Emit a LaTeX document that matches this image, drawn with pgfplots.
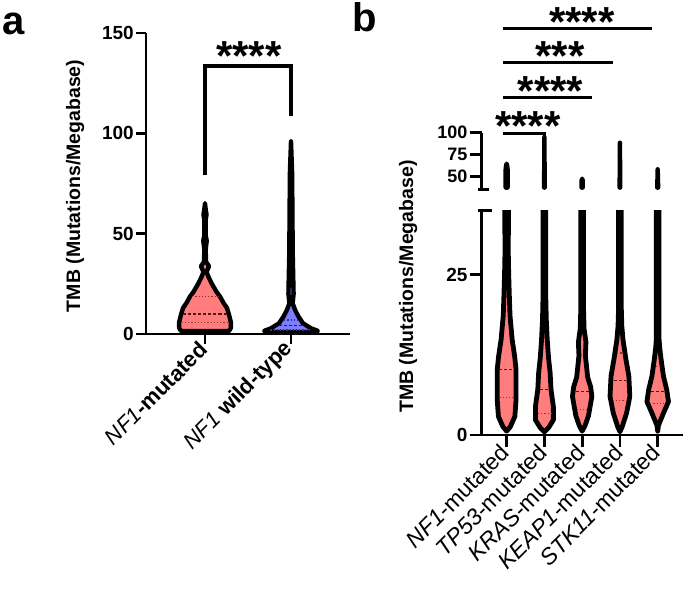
\documentclass[border=0pt]{standalone}
\usepackage{fontspec}
\setmainfont{Liberation Sans}
\usepackage{pgfplots}
\pgfplotsset{compat=1.18}
\definecolor{vred}{RGB}{255,125,125}
\definecolor{vblue}{RGB}{125,125,255}
\definecolor{medr}{RGB}{80,25,25}
\definecolor{qr}{RGB}{150,50,50}
\definecolor{medb}{RGB}{30,30,90}
\definecolor{qb}{RGB}{50,50,150}
\newcommand\fs[1]{\fontsize{#1}{#1}\selectfont}
\pgfplotsset{
  base/.style={scale only axis,
    axis line style={line width=2.8pt,-},
    tick style={black,line width=2.8pt},
    tick align=outside,
    /pgf/number format/assume math mode=true,
    yticklabel style={font=\fs{19}\bfseries, inner sep=2pt},
    ylabel style={font=\fs{19.5}\bfseries},
  },
}
\tikzset{
  vio/.style={fill=vred, draw=black, line width=4.8pt, line join=round},
  vioa/.style={fill=vred, draw=black, line width=4.4pt, line join=round},
  med/.style={medr, line width=1.6pt, dash pattern=on 3pt off 2pt},
  qrt/.style={qr, line width=1.2pt, dash pattern=on 1.2pt off 2pt},
  medB/.style={medb, line width=1.6pt, dash pattern=on 3pt off 2pt},
  qrtB/.style={qb, line width=1.2pt, dash pattern=on 1.2pt off 2pt},
  sig/.style={black, line width=3pt, line join=miter},
  stars/.style={anchor=base, inner sep=0pt, font=\fs{42}\bfseries, yshift=-24.3pt},
}
\begin{document}
\begin{tikzpicture}
\useasboundingbox (0pt,0pt) rectangle (685pt,589pt);
\node[anchor=base west, inner sep=0pt, font=\fs{40}\bfseries] at (2pt,554pt) {a};
\node[anchor=base west, inner sep=0pt, font=\fs{40}\bfseries] at (352pt,557pt) {b};

% ---------------- panel a ----------------
\begin{axis}[base, at={(146pt,255pt)}, anchor=south west, width=204pt, height=301pt,
  axis x line*=bottom, axis y line*=left,
  xmin=-0.686, xmax=1.686, ymin=0, ymax=150,
  ytick={0,50,100,150}, xtick={0,1}, major tick length=10pt,
  xticklabels={{\mdseries\itshape NF1}-mutated, {\mdseries\itshape NF1} wild-type},
  xticklabel style={font=\fs{22}\bfseries, rotate=45, anchor=east, inner sep=2pt},
  ylabel={TMB (Mutations/Megabase)},
  ylabel style={at={(axis description cs:-0.348,0.492)}, anchor=center},
  clip=false]
\addplot[vioa] coordinates {(0.28,1.5) (0.30,3) (0.30,6) (0.28,9.5) (0.255,13) (0.215,15.5) (0.174,18.7) (0.134,21) (0.076,25.3) (0.038,28.7) (0.017,31) (0.047,33.7) (0.012,36) (0.008,42) (0.02,46.5) (0.008,49) (0.008,57) (0.018,59.5) (0.008,62) (0,65.2) (-0.008,62) (-0.018,59.5) (-0.008,57) (-0.008,49) (-0.02,46.5) (-0.008,42) (-0.012,36) (-0.047,33.7) (-0.017,31) (-0.038,28.7) (-0.076,25.3) (-0.134,21) (-0.174,18.7) (-0.215,15.5) (-0.255,13) (-0.28,9.5) (-0.30,6) (-0.30,3) (-0.28,1.5)} --cycle;
\addplot[vioa, fill=vblue] coordinates {(1.30,0.9) (1.31,1.6) (1.235,2.8) (1.14,5.3) (1.087,8.7) (1.047,12) (1.019,15.3) (1.03,20) (1.02,40) (1.013,80) (1,96) (0.987,80) (0.98,40) (0.97,20) (0.981,15.3) (0.953,12) (0.913,8.7) (0.86,5.3) (0.765,2.8) (0.69,1.6) (0.70,0.9)} --cycle;
\addplot[med] coordinates {(-0.25,10) (0.25,10)};
\addplot[qrt] coordinates {(-0.27,5.7) (0.27,5.7)};
\addplot[qrt] coordinates {(-0.15,18.7) (0.15,18.7)};
\addplot[medB] coordinates {(0.86,4.2) (1.14,4.2)};
\addplot[qrtB] coordinates {(0.76,2.0) (1.24,2.0)};
\addplot[qrtB] coordinates {(0.92,7.0) (1.08,7.0)};
\addplot[sig, line width=4pt] coordinates {(0,79) (0,133.7) (1,133.7) (1,108.5)};
\node[stars] at (axis cs:0.51,143.3) {****};
\end{axis}

% ---------------- panel b, lower ----------------
\begin{axis}[base, at={(481.7pt,154pt)}, anchor=south west, width=201.3pt, height=224.3pt,
  axis x line*=bottom, axis y line*=left,
  xmin=-0.66, xmax=4.67, ymin=0, ymax=35,
  ytick={0,25}, xtick={0,1,2,3,4}, major tick length=12pt,
  xticklabels={{\itshape NF1}-mutated, {\itshape TP53}-mutated, {\itshape KRAS}-mutated, {\itshape KEAP1}-mutated, {\itshape STK11}-mutated},
  xticklabel style={font=\fs{23}, rotate=45, anchor=east, inner sep=2pt},
  ylabel={TMB (Mutations/Megabase)},
  ylabel style={at={(axis description cs:-0.366,0.662)}, anchor=center}]
\addplot[vio] coordinates {(0,0.6) (0.099,1.3) (0.218,2.9) (0.249,5.5) (0.249,10.2) (0.212,12.3) (0.146,14.9) (0.09,18.6) (0.07,22) (0.055,25) (0.045,28) (0.045,31) (0.05,33) (0.045,36) (-0.045,36) (-0.05,33) (-0.045,31) (-0.045,28) (-0.055,25) (-0.07,22) (-0.09,18.6) (-0.146,14.9) (-0.212,12.3) (-0.249,10.2) (-0.249,5.5) (-0.218,2.9) (-0.099,1.3)} --cycle;
\addplot[vio] coordinates {(1,0.5) (1.106,1.1) (1.238,2.35) (1.238,4.4) (1.175,7.1) (1.152,9.7) (1.11,12) (1.075,14.9) (1.05,18) (1.035,22) (1.035,36) (0.965,36) (0.965,22) (0.95,18) (0.925,14.9) (0.89,12) (0.848,9.7) (0.825,7.1) (0.762,4.4) (0.762,2.35) (0.894,1.1)} --cycle;
\addplot[vio] coordinates {(2,0.6) (2.079,1.5) (2.167,3) (2.257,6) (2.225,7.5) (2.146,9) (2.085,12.4) (2.1,14.5) (2.05,16.6) (2.035,20) (2.035,36) (1.965,36) (1.965,20) (1.95,16.6) (1.9,14.5) (1.915,12.4) (1.854,9) (1.775,7.5) (1.743,6) (1.833,3) (1.921,1.5)} --cycle;
\addplot[vio] coordinates {(3,0.5) (3.06,1.3) (3.175,3.4) (3.262,6) (3.236,9.2) (3.159,11.8) (3.08,14.9) (3.05,17) (3.035,20) (3.035,36) (2.965,36) (2.965,20) (2.95,17) (2.92,14.9) (2.841,11.8) (2.764,9.2) (2.738,6) (2.825,3.4) (2.94,1.3)} --cycle;
\addplot[vio] coordinates {(4,0.6) (4.02,1.5) (4.152,3.4) (4.285,5.2) (4.238,7.1) (4.152,9.2) (4.09,11.8) (4.055,13.5) (4.035,15) (4.035,36) (3.965,36) (3.965,15) (3.945,13.5) (3.91,11.8) (3.848,9.2) (3.762,7.1) (3.715,5.2) (3.848,3.4) (3.98,1.5)} --cycle;
\addplot[med] coordinates {(-0.19,10.2) (0.19,10.2)};
\addplot[qrt] coordinates {(-0.19,5.8) (0.19,5.8)};
\addplot[med] coordinates {(0.89,7.1) (1.11,7.1)};
\addplot[qrt] coordinates {(0.83,3.3) (1.17,3.3)};
\addplot[med] coordinates {(1.83,6.8) (2.17,6.8)};
\addplot[qrt] coordinates {(1.86,4.0) (2.14,4.0)};
\addplot[med] coordinates {(2.83,8.5) (3.17,8.5)};
\addplot[qrt] coordinates {(2.81,5.4) (3.19,5.4)};
\addplot[qrt] coordinates {(2.93,12.8) (3.07,12.8)};
\addplot[med] coordinates {(3.82,6.8) (4.18,6.8)};
\addplot[qrt] coordinates {(3.8,4.9) (4.2,4.9)};
\addplot[qrt] coordinates {(3.95,10.7) (4.05,10.7)};
\end{axis}

% ---------------- panel b, upper ----------------
\begin{axis}[base, at={(481.7pt,399.7pt)}, anchor=south west, width=201.3pt, height=56.6pt,
  axis y line*=left, axis x line=none,
  xmin=-0.66, xmax=4.67, ymin=35, ymax=100,
  ytick={50,75,100}, xtick=\empty, major tick length=12pt,
  yticklabel style={font=\fs{18}\bfseries},
  clip=false]
\addplot[vio, fill=black, line width=4.4pt] coordinates {(0.025,37) (0.025,58) (0.015,62) (0,64.4) (-0.015,62) (-0.025,58) (-0.025,37)} --cycle;
\addplot[vio, fill=black, line width=4.4pt] coordinates {(1.008,37) (1,95) (0.992,37)} --cycle;
\addplot[vio, fill=black, line width=4.4pt] coordinates {(2.015,37) (2.015,45) (2,47.2) (1.985,45) (1.985,37)} --cycle;
\addplot[vio, fill=black, line width=4.4pt] coordinates {(3.008,37) (3,88.5) (2.992,37)} --cycle;
\addplot[vio, fill=black, line width=4.4pt] coordinates {(4.012,37) (4,58) (3.988,37)} --cycle;
\addplot[sig] coordinates {(-0.09,99.3) (1,99.3) (1,90)};
\node[stars] at (axis cs:0.56,119.2) {****};
\addplot[sig] coordinates {(-0.09,140.2) (2.25,140.2)};
\node[stars] at (axis cs:1.165,159.3) {****};
\addplot[sig] coordinates {(-0.09,180.8) (2.82,180.8)};
\node[stars] at (axis cs:1.41,199.5) {***};
\addplot[sig] coordinates {(-0.09,219.8) (3.84,219.8)};
\node[stars] at (axis cs:1.99,238.6) {****};
\end{axis}

% broken-axis caps
\draw[line width=2.8pt] (478.3pt,399.7pt) -- (489pt,399.7pt);
\draw[line width=2.8pt] (478.3pt,378.3pt) -- (491.7pt,378.3pt);
\end{tikzpicture}
\end{document}
